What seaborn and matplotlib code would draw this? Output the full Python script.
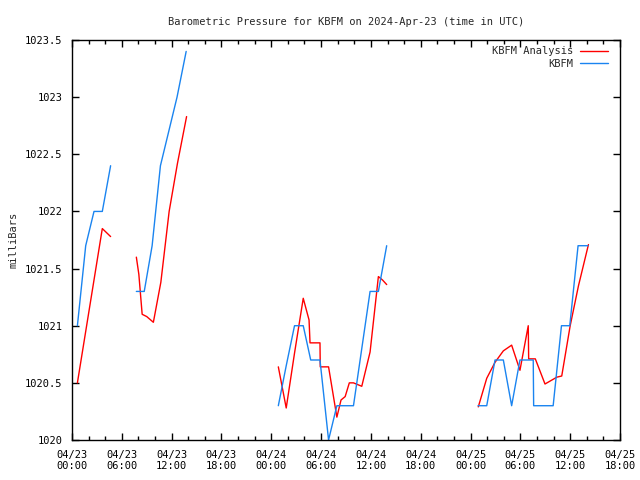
import pandas as pd
import matplotlib
matplotlib.use("Agg")
import matplotlib.pyplot as plt
import matplotlib.dates as mdates
import seaborn as sns

# KBFM observations (segments split by missing data)
obs_seg = [1] * 5 + [2] * 7 + [3] * 14 + [4] * 15
obs_time = [
    "2024-04-23 00:39", "2024-04-23 01:39", "2024-04-23 02:39", "2024-04-23 03:39", "2024-04-23 04:39",
    "2024-04-23 07:45", "2024-04-23 08:42", "2024-04-23 09:39", "2024-04-23 10:39", "2024-04-23 11:39",
    "2024-04-23 12:39", "2024-04-23 13:45",
    "2024-04-24 00:51", "2024-04-24 01:48", "2024-04-24 02:48", "2024-04-24 03:51", "2024-04-24 04:45",
    "2024-04-24 05:52", "2024-04-24 06:54", "2024-04-24 07:54", "2024-04-24 08:54", "2024-04-24 09:54",
    "2024-04-24 10:54", "2024-04-24 11:54", "2024-04-24 12:54", "2024-04-24 13:54",
    "2024-04-25 00:54", "2024-04-25 01:57", "2024-04-25 02:57", "2024-04-25 03:57", "2024-04-25 04:57",
    "2024-04-25 05:57", "2024-04-25 06:57", "2024-04-25 07:33", "2024-04-25 07:36", "2024-04-25 08:57",
    "2024-04-25 09:57", "2024-04-25 10:57", "2024-04-25 11:57", "2024-04-25 12:57", "2024-04-25 14:09",
]
obs_pres = [
    1021.0, 1021.7, 1022.0, 1022.0, 1022.4,
    1021.3, 1021.3, 1021.7, 1022.4, 1022.7, 1023.0, 1023.4,
    1020.3, 1020.65, 1021.0, 1021.0, 1020.7, 1020.7, 1020.0, 1020.3, 1020.3, 1020.3,
    1020.8, 1021.3, 1021.3, 1021.7,
    1020.3, 1020.3, 1020.7, 1020.7, 1020.3, 1020.7, 1020.7, 1020.7, 1020.3, 1020.3,
    1020.3, 1021.0, 1021.0, 1021.7, 1021.7,
]

# KBFM analysis
ana_seg = [1] * 5 + [2] * 9 + [3] * 19 + [4] * 15
ana_time = [
    "2024-04-23 00:39", "2024-04-23 01:39", "2024-04-23 02:39", "2024-04-23 03:39", "2024-04-23 04:39",
    "2024-04-23 07:45", "2024-04-23 08:03", "2024-04-23 08:27", "2024-04-23 09:00", "2024-04-23 09:48",
    "2024-04-23 10:42", "2024-04-23 11:42", "2024-04-23 12:42", "2024-04-23 13:48",
    "2024-04-24 00:51", "2024-04-24 01:48", "2024-04-24 02:48", "2024-04-24 03:51", "2024-04-24 04:33",
    "2024-04-24 04:40", "2024-04-24 05:52", "2024-04-24 05:54", "2024-04-24 06:54", "2024-04-24 07:54",
    "2024-04-24 08:24", "2024-04-24 08:54", "2024-04-24 09:24", "2024-04-24 09:54", "2024-04-24 10:54",
    "2024-04-24 11:54", "2024-04-24 12:54", "2024-04-24 13:24", "2024-04-24 13:54",
    "2024-04-25 00:56", "2024-04-25 01:57", "2024-04-25 02:57", "2024-04-25 03:57", "2024-04-25 04:57",
    "2024-04-25 05:57", "2024-04-25 06:57", "2024-04-25 07:00", "2024-04-25 07:48", "2024-04-25 08:58",
    "2024-04-25 10:24", "2024-04-25 10:59", "2024-04-25 12:00", "2024-04-25 13:00", "2024-04-25 14:12",
]
ana_pres = [
    1020.5, 1020.95, 1021.4, 1021.85, 1021.78,
    1021.6, 1021.45, 1021.1, 1021.08, 1021.03, 1021.38, 1022.0, 1022.42, 1022.83,
    1020.64, 1020.28, 1020.76, 1021.24, 1021.05, 1020.85, 1020.85, 1020.64, 1020.64, 1020.2,
    1020.35, 1020.38, 1020.5, 1020.5, 1020.47, 1020.77, 1021.43, 1021.4, 1021.36,
    1020.29, 1020.54, 1020.68, 1020.78, 1020.83, 1020.61, 1021.0, 1020.71, 1020.71, 1020.49,
    1020.55, 1020.56, 1021.0, 1021.35, 1021.71,
]

y_ticks = [1020, 1020.5, 1021, 1021.5, 1022, 1022.5, 1023, 1023.5]
y_labels = ["1020", "1020.5", "1021", "1021.5", "1022", "1022.5", "1023", "1023.5"]

df = pd.concat([
    pd.DataFrame({"time": pd.to_datetime(ana_time), "pressure": ana_pres,
                  "segment": ana_seg, "series": "KBFM Analysis"}),
    pd.DataFrame({"time": pd.to_datetime(obs_time), "pressure": obs_pres,
                  "segment": obs_seg, "series": "KBFM"}),
], ignore_index=True)

sns.set_style("ticks")
plt.rcParams["font.family"] = ["DejaVu Sans Mono", "DejaVu Sans"]
plt.rcParams["font.size"] = 7.5

fig = plt.figure(figsize=(6.4, 4.8), dpi=100)
ax = fig.add_axes([72 / 640, 40 / 480, 548 / 640, 400 / 480])

sns.lineplot(
    data=df, x="time", y="pressure", hue="series", units="segment",
    estimator=None, hue_order=["KBFM Analysis", "KBFM"],
    palette={"KBFM Analysis": "#ff0000", "KBFM": "#1a84f0"},
    linewidth=1.0, ax=ax, sort=False,
)

ax.set_xlim(pd.Timestamp("2024-04-23 00:00"), pd.Timestamp("2024-04-25 18:00"))
ax.set_ylim(1020, 1023.5)
ax.set_yticks(y_ticks)
ax.set_yticklabels(y_labels)
ax.xaxis.set_major_locator(mdates.HourLocator(byhour=[0, 6, 12, 18]))
ax.xaxis.set_minor_locator(mdates.HourLocator(interval=2))
ax.xaxis.set_major_formatter(mdates.DateFormatter("%m/%d\n%H:%M"))

ax.tick_params(which="both", direction="in", top=True, right=True,
               color="black", labelsize=7.5, labelcolor="black")
ax.tick_params(which="major", length=5, width=1, pad=7)
ax.tick_params(which="minor", length=3, width=1)
for s in ax.spines.values():
    s.set_visible(True)
    s.set_color("black")
    s.set_linewidth(1)

ax.set_xlabel("")
ax.set_ylabel("milliBars", fontsize=7.5)
ax.yaxis.set_label_coords(-0.097, 0.5)
ax.set_title("Barometric Pressure for KBFM on 2024-Apr-23 (time in UTC)",
             fontsize=7.5, pad=11)

leg = ax.legend(loc="upper right", bbox_to_anchor=(0.996, 1.008), frameon=False,
                markerfirst=False, handlelength=2.7, fontsize=7.5,
                borderaxespad=0.5, labelspacing=0.25, handletextpad=0.7)

fig.savefig("out.png", dpi=100)
